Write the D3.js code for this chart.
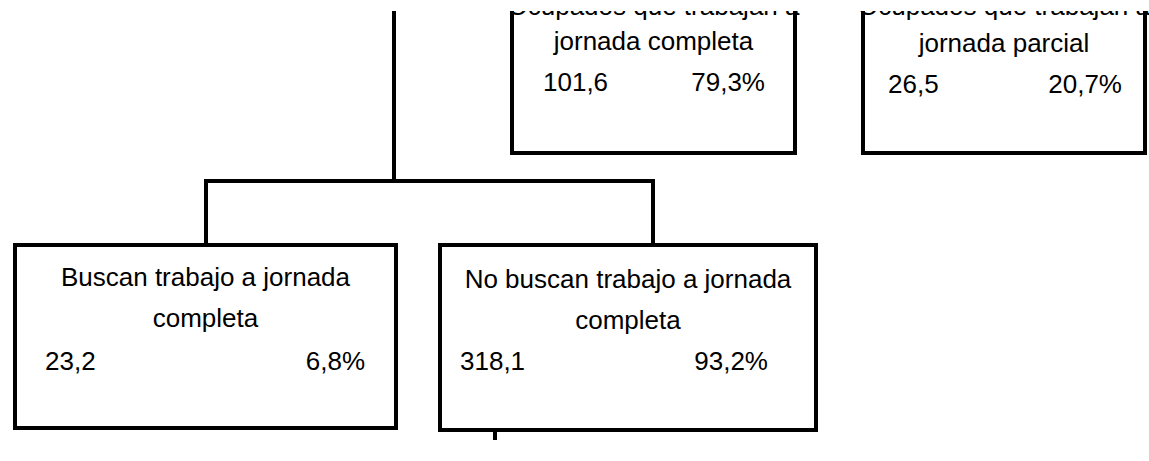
<!DOCTYPE html>
<html>
<head>
<meta charset="utf-8">
<script src="https://cdn.jsdelivr.net/npm/d3@7"></script>
<style>
  html, body { margin: 0; padding: 0; background: #fff; }
  svg { display: block; }
  text { font-family: "Liberation Sans", Arial, sans-serif; fill: #000; }
</style>
</head>
<body>
<script>
// node texts and values (thousands of people, share of parent)
const nodeTitles = [
  ['Ocupados que trabajan a', 'jornada completa'],
  ['Ocupados que trabajan a', 'jornada parcial'],
  ['Buscan trabajo a jornada', 'completa'],
  ['No buscan trabajo a jornada', 'completa']
];
const nodeValues = [101.6, 26.5, 23.2, 318.1];
const nodeShares = [79.3, 20.7, 6.8, 93.2];

// box geometry (layout only)
const boxes = [
  { x0: 512, x1: 795, y0: -33, y1: 153, rows: [15, 50, 91], padL: 31, padR: 30 },
  { x0: 863, x1: 1145, y0: -33, y1: 153, rows: [15, 52, 93], padL: 25, padR: 23 },
  { x0: 15, x1: 396, y0: 245, y1: 428, rows: [286, 327, 370], padL: 30, padR: 31 },
  { x0: 440, x1: 816, y0: 245, y1: 430, rows: [288, 329, 370], padL: 20, padR: 48 }
];

const width = 1149, height = 461;
const fontSize = 26;

const es = d3.formatLocale({ decimal: ',', thousands: '.', grouping: [3], currency: ['', ' €'] });
const fmtVal = es.format('.1f');
const fmtPct = v => es.format('.1f')(v) + '%';

const svg = d3.select('body').append('svg')
  .attr('width', width)
  .attr('height', height);

svg.append('rect').attr('width', width).attr('height', height).attr('fill', '#fff');

svg.append('clipPath').attr('id', 'crop')
  .append('rect').attr('x', 0).attr('y', 11).attr('width', width).attr('height', height - 11);

const g = svg.append('g').attr('clip-path', 'url(#crop)');

// connectors: trunk from above down to a bar, then drops to the two lower boxes
const cx = d => (d.x0 + d.x1) / 2;
const barY = 181;
const trunkX = 394;
const dropL = 206, dropR = 653;

const line = d3.line();
const links = [
  [[trunkX, 0], [trunkX, barY]],
  [[dropL, boxes[2].y0], [dropL, barY], [dropR, barY], [dropR, boxes[3].y0]],
  [[495, boxes[3].y1], [495, 440]]
];

g.append('g')
  .selectAll('path')
  .data(links)
  .join('path')
  .attr('d', line)
  .attr('fill', 'none')
  .attr('stroke', '#000')
  .attr('stroke-width', 4)
  .attr('shape-rendering', 'crispEdges');

const nodes = g.append('g')
  .selectAll('g')
  .data(boxes.map((b, i) => ({ ...b, title: nodeTitles[i], value: nodeValues[i], share: nodeShares[i] })))
  .join('g');

nodes.append('rect')
  .attr('x', d => d.x0)
  .attr('y', d => d.y0)
  .attr('width', d => d.x1 - d.x0)
  .attr('height', d => d.y1 - d.y0)
  .attr('fill', '#fff')
  .attr('stroke', '#000')
  .attr('stroke-width', 4)
  .attr('shape-rendering', 'crispEdges');

nodes.each(function(d) {
  const sel = d3.select(this);
  d.title.forEach((t, k) => {
    sel.append('text')
      .attr('x', cx(d))
      .attr('y', d.rows[k])
      .attr('text-anchor', 'middle')
      .attr('font-size', fontSize)
      .text(t);
  });
  sel.append('text')
    .attr('x', d.x0 + d.padL)
    .attr('y', d.rows[2])
    .attr('font-size', fontSize)
    .text(fmtVal(d.value));
  sel.append('text')
    .attr('x', d.x1 - d.padR)
    .attr('y', d.rows[2])
    .attr('text-anchor', 'end')
    .attr('font-size', fontSize)
    .text(fmtPct(d.share));
});
</script>
</body>
</html>
